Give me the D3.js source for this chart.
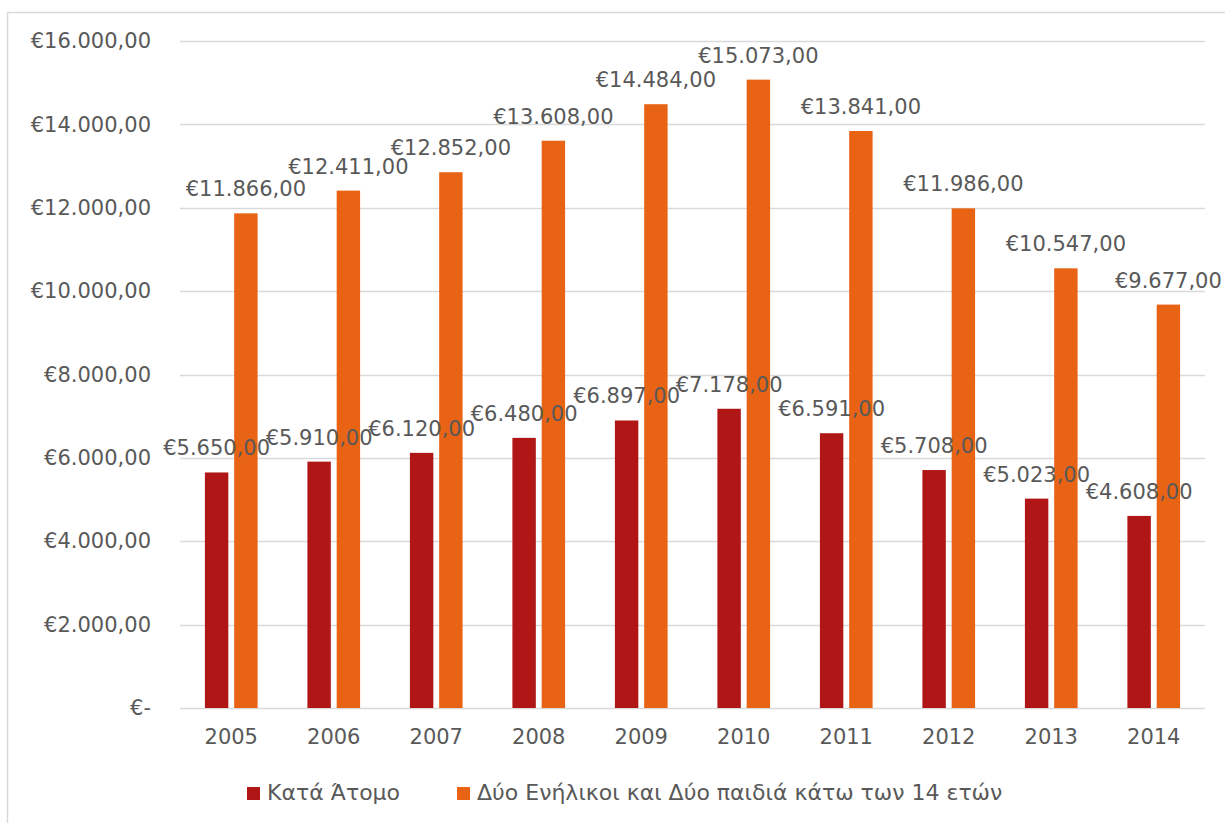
<!DOCTYPE html>
<html>
<head>
<meta charset="utf-8">
<script src="https://cdn.jsdelivr.net/npm/d3@7"></script>
<style>
  body { margin: 0; background: #fff; }
  text { font-family: "DejaVu Sans", sans-serif; fill: #595959; }
</style>
</head>
<body>
<svg id="chart" width="1225" height="823"></svg>
<script>
// data
var years = ['2005', '2006', '2007', '2008', '2009', '2010', '2011', '2012', '2013', '2014'];
var seriesNames = ['Κατά Άτομο', 'Δύο Ενήλικοι και Δύο παιδιά κάτω των 14 ετών'];
var perPerson = [5650, 5910, 6120, 6480, 6897, 7178, 6591, 5708, 5023, 4608];
var family = [11866, 12411, 12852, 13608, 14484, 15073, 13841, 11986, 10547, 9677];
var yTicks = [0, 2000, 4000, 6000, 8000, 10000, 12000, 14000, 16000];
var colors = ['#b01616', '#e96314'];

var svg = d3.select('#chart');
var margin = { top: 41, right: 20, bottom: 114, left: 180 },
    width = 1205 - margin.left,
    height = 708 - margin.top;

// chart frame (only top and left edges visible in the picture)
svg.append('line')
    .attr('x1', 7).attr('x2', 1225).attr('y1', 12.5).attr('y2', 12.5)
    .attr('stroke', '#d9d9d9').attr('stroke-width', 1.5);
svg.append('line')
    .attr('x1', 7.5).attr('x2', 7.5).attr('y1', 12).attr('y2', 823)
    .attr('stroke', '#d9d9d9').attr('stroke-width', 1.5);

var g = svg.append('g').attr('transform', 'translate(' + margin.left + ',' + margin.top + ')');

var x0 = d3.scaleBand().domain(years).range([0, width]).paddingInner(0.486).paddingOuter(0.243);
var x1 = d3.scaleBand().domain([0, 1]).range([0, x0.bandwidth()]).paddingInner(0.2);
var y = d3.scaleLinear().domain([0, 16000]).range([height, 0]);

var euro = function(v) {
    if (v === 0) return '€-';
    return '€' + d3.format(',.2f')(v).replace(/,/g, '#').replace('.', ',').replace(/#/g, '.');
};

// gridlines
g.append('g')
    .selectAll('line')
    .data(yTicks)
    .enter()
    .append('line')
    .attr('x1', 0).attr('x2', width)
    .attr('y1', d => Math.round(y(d)) + 0.5)
    .attr('y2', d => Math.round(y(d)) + 0.5)
    .attr('stroke', '#d9d9d9')
    .attr('stroke-width', 1.5);

// y axis labels
var yAxis = g.append('g')
    .call(d3.axisLeft(y).tickValues(yTicks).tickFormat(euro).tickSize(0).tickPadding(29));
yAxis.select('.domain').remove();
yAxis.selectAll('text').style('font-size', '21px').attr('fill', '#595959');

// x axis labels
var xAxis = g.append('g')
    .attr('transform', 'translate(0,' + height + ')')
    .call(d3.axisBottom(x0).tickSize(0).tickPadding(21));
xAxis.select('.domain').remove();
xAxis.selectAll('text').style('font-size', '21px').attr('fill', '#595959');

var series = [perPerson, family];

series.forEach(function(vals, si) {
    var sg = g.append('g');
    sg.selectAll('rect')
        .data(vals)
        .enter()
        .append('rect')
        .attr('x', (d, i) => x0(years[i]) + x1(si))
        .attr('y', d => y(d))
        .attr('width', x1.bandwidth())
        .attr('height', d => height - y(d))
        .attr('fill', colors[si]);
});

// data labels drawn after bars so they sit on top
series.forEach(function(vals, si) {
    g.append('g')
        .selectAll('text')
        .data(vals)
        .enter()
        .append('text')
        .attr('x', (d, i) => x0(years[i]) + x1(si) + x1.bandwidth() / 2)
        .attr('y', d => y(d) - 17)
        .attr('text-anchor', 'middle')
        .style('font-size', '21px')
        .text(d => euro(d));
});

// legend
var legendX = [247, 457];
var legend = svg.append('g');
seriesNames.forEach(function(name, i) {
    legend.append('rect')
        .attr('x', legendX[i]).attr('y', 787)
        .attr('width', 13).attr('height', 13)
        .attr('fill', colors[i]);
    legend.append('text')
        .attr('x', legendX[i] + 20).attr('y', 800)
        .style('font-size', '22px')
        .text(name);
});
</script>
</body>
</html>
